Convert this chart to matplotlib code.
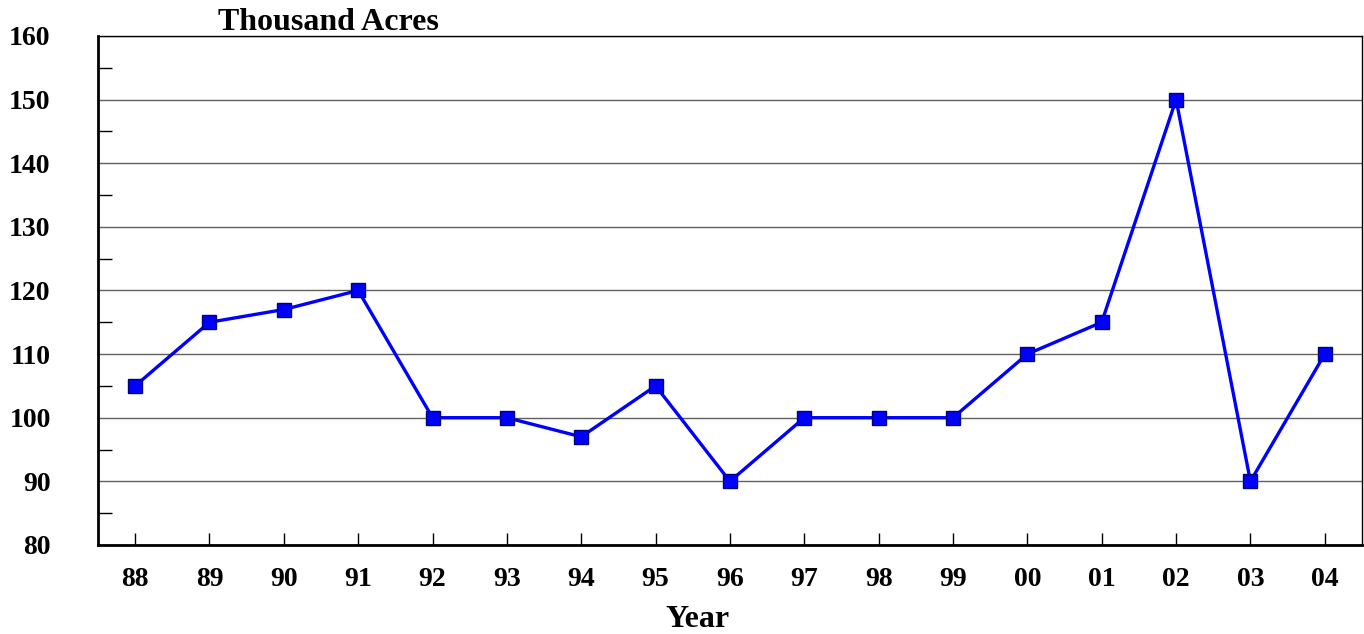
import matplotlib.pyplot as plt
from matplotlib.ticker import MultipleLocator

# Data
years = ['88', '89', '90', '91', '92', '93', '94', '95', '96', '97',
         '98', '99', '00', '01', '02', '03', '04']
acres = [105, 115, 117, 120, 100, 100, 97, 105, 90, 100,
         100, 100, 110, 115, 150, 90, 110]

plt.rcParams['font.family'] = 'Liberation Serif'
plt.rcParams['font.weight'] = 'bold'

fig = plt.figure(figsize=(13.64, 6.34), dpi=100)
ax = fig.add_axes([0.0718, 0.1404, 0.9267, 0.803])

x = list(range(len(years)))
ax.plot(x, acres, color='#0000ff', linewidth=2.4, marker='s', markersize=10,
        markerfacecolor='#0000ff', markeredgecolor='#000080', markeredgewidth=1, zorder=3)

ax.set_xlim(-0.5, len(years) - 0.5)
ax.set_ylim(80, 160)
ax.set_xticks(x)
ax.set_xticklabels(years)
ax.yaxis.set_major_locator(MultipleLocator(10))
ax.yaxis.set_minor_locator(MultipleLocator(5))
ax.grid(axis='y', which='major', color='#606060', linewidth=1)

ax.tick_params(axis='x', direction='in', length=9, width=1, pad=16, labelsize=20)
ax.tick_params(axis='y', which='major', direction='in', length=0, pad=34, labelsize=20)
ax.tick_params(axis='y', which='minor', direction='in', length=10, width=1)
for lab in ax.get_xticklabels() + ax.get_yticklabels():
    lab.set_fontweight('bold')

for side in ['top', 'right']:
    ax.spines[side].set_linewidth(1)
for side in ['left', 'bottom']:
    ax.spines[side].set_linewidth(2)

ax.set_xlabel('Year', fontsize=23, fontweight='bold')
ax.xaxis.set_label_coords(0.474, -0.118)
fig.text(0.16, 0.965, 'Thousand Acres', fontsize=23, fontweight='bold', ha='left', va='center')

fig.savefig('out.png', dpi=100)
